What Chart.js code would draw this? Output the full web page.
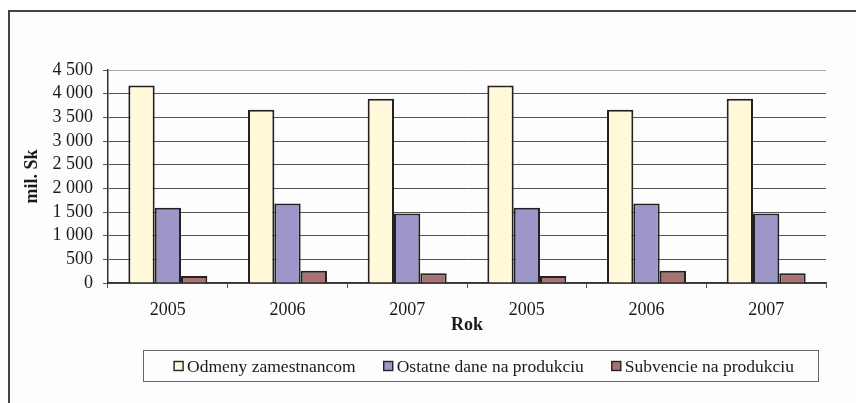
<!DOCTYPE html>
<html>
<head>
<meta charset="utf-8">
<script src="https://cdn.jsdelivr.net/npm/chart.js@4"></script>
<style>
  html, body { margin: 0; padding: 0; background: #ffffff; }
  #wrap { position: relative; width: 856px; height: 403px; }
</style>
</head>
<body>
<div id="wrap"><canvas id="chart" width="856" height="403"></canvas></div>
<script>
// Údaje z grafu (mil. Sk)
const years = ['2005', '2006', '2007', '2005', '2006', '2007'];
const odmeny = [4170, 3660, 3890, 4170, 3660, 3890];
const ostatneDane = [1590, 1680, 1470, 1590, 1680, 1470];
const subvencie = [150, 260, 205, 150, 260, 205];
const seriesNames = ['Odmeny zamestnancom', 'Ostatne dane na produkciu', 'Subvencie na produkciu'];
const seriesColors = ['#fff9d9', '#9d97c9', '#a77271'];
const yMax = 4500;
const yStep = 500;

const serif = '"Liberation Serif", "Times New Roman", serif';

// Rámik celého grafu
const framePlugin = {
    id: 'frame',
    beforeDraw(chart) {
        const ctx = chart.ctx;
        ctx.save();
        ctx.fillStyle = '#fdfdfd';
        ctx.fillRect(10, 12, chart.width, chart.height);
        ctx.strokeStyle = '#444';
        ctx.lineWidth = 2;
        ctx.beginPath();
        ctx.moveTo(9, chart.height + 2);
        ctx.lineTo(9, 11);
        ctx.lineTo(chart.width + 2, 11);
        ctx.stroke();
        ctx.restore();
    }
};

// Legenda v rámčeku pod grafom
const boxLegendPlugin = {
    id: 'boxLegend',
    afterDraw(chart) {
        const ctx = chart.ctx;
        const sets = chart.data.datasets;
        ctx.save();
        ctx.font = '17.5px ' + serif;
        ctx.textBaseline = 'middle';
        const box = 9, gapText = 4, gapItem = 28;
        const widths = sets.map(ds => box + gapText + ctx.measureText(ds.label).width);
        const total = widths.reduce((a, b) => a + b, 0) + gapItem * (sets.length - 1);
        const cy = 366;
        let x = 484 - total / 2;

        ctx.strokeStyle = '#666';
        ctx.lineWidth = 1;
        ctx.strokeRect(143.5, 350.5, 675, 31);

        sets.forEach((ds, i) => {
            ctx.fillStyle = ds.backgroundColor;
            ctx.fillRect(x, cy - box / 2, box, box);
            ctx.strokeStyle = '#222';
            ctx.lineWidth = 1.4;
            ctx.strokeRect(x, cy - box / 2, box, box);
            ctx.fillStyle = '#1a1a1a';
            ctx.fillText(ds.label, x + box + gapText, cy + 1);
            x += widths[i] + gapItem;
        });
        ctx.restore();
    }
};

const ctx = document.getElementById('chart').getContext('2d');
new Chart(ctx, {
    type: 'bar',
    data: {
        labels: years,
        datasets: [odmeny, ostatneDane, subvencie].map((values, i) => ({
            label: seriesNames[i],
            data: values,
            backgroundColor: seriesColors[i],
            borderColor: '#222',
            borderWidth: 2,
            categoryPercentage: 0.66,
            barPercentage: 1.0
        }))
    },
    options: {
        responsive: false,
        animation: false,
        devicePixelRatio: 1,
        layout: { padding: { top: 70, left: 10, right: 30, bottom: 65 } },
        plugins: {
            legend: { display: false },
            tooltip: { enabled: false }
        },
        scales: {
            x: {
                afterFit(scale) { scale.height = 55; },
                grid: {
                    offset: true,
                    drawOnChartArea: true,
                    color: c => (c.index === years.length ? '#9a9a9a' : 'rgba(0,0,0,0)'),
                    tickColor: '#555',
                    tickLength: 5
                },
                border: { color: '#333', width: 1.5 },
                ticks: {
                    autoSkip: false,
                    maxRotation: 0,
                    color: '#1a1a1a',
                    padding: 11,
                    font: { family: serif, size: 18 }
                },
                title: {
                    display: true,
                    text: 'Rok',
                    color: '#1a1a1a',
                    padding: { top: 0, bottom: 2 },
                    font: { family: serif, size: 18, weight: 'bold' }
                }
            },
            y: {
                min: 0,
                max: yMax,
                afterFit(scale) { scale.width = 98; },
                grid: {
                    color: c => (c.tick && c.tick.value === yMax ? '#aaaaaa' : '#555555'),
                    tickColor: '#555',
                    tickLength: 5
                },
                border: { color: '#333', width: 1.5 },
                ticks: {
                    autoSkip: false,
                    stepSize: yStep,
                    color: '#1a1a1a',
                    padding: 10,
                    font: { family: serif, size: 18 },
                    callback: v => String(v).replace(/\B(?=(\d{3})+(?!\d))/g, ' ')
                },
                title: {
                    display: true,
                    text: 'mil. Sk',
                    color: '#1a1a1a',
                    padding: { top: 12, bottom: 0 },
                    font: { family: serif, size: 18, weight: 'bold' }
                }
            }
        }
    },
    plugins: [framePlugin, boxLegendPlugin]
});
</script>
</body>
</html>
